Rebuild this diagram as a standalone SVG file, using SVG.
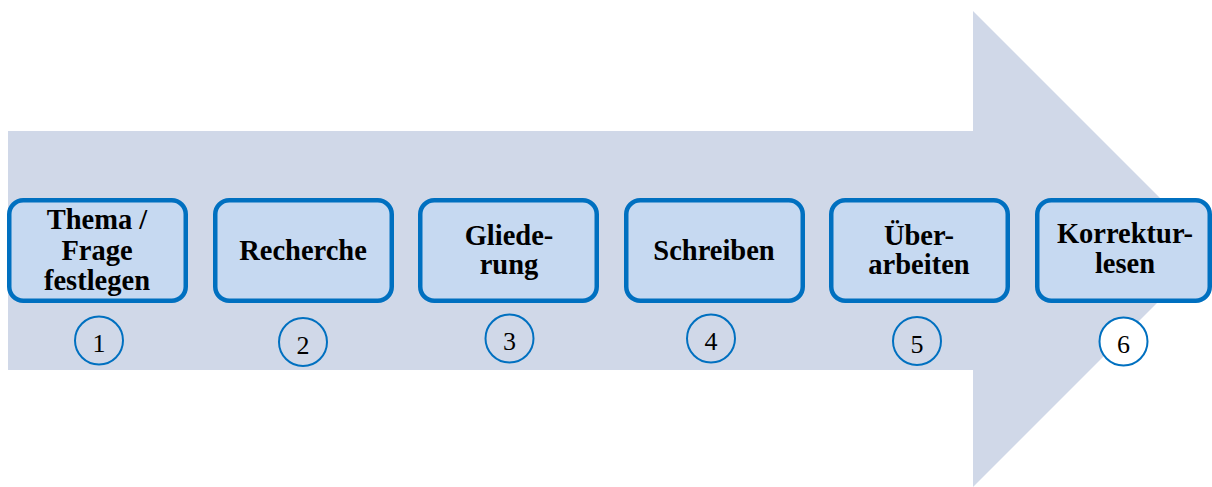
<svg xmlns="http://www.w3.org/2000/svg" width="1212" height="487" viewBox="0 0 1212 487">
<style>
.box{fill:#C6D9F1;stroke:#0070C0;stroke-width:4.5}
.lbl{font-family:'Liberation Serif','DejaVu Serif',serif;font-weight:bold;font-size:28.5px;fill:#000;text-anchor:middle}
.num-c{fill:#D0D8E8;stroke:#0070C0;stroke-width:2}
.num{font-family:'Liberation Serif','DejaVu Serif',serif;font-size:26px;fill:#000;text-anchor:middle}
</style>
<rect width="1212" height="487" fill="#fff"/>
<g id="arrow">
<polygon points="8,131 973,131 973,11 1211,249 973,487 973,370 8,370" fill="#D0D8E8"/>
</g>
<g id="connectors"></g>
<g id="n1">
<rect class="box" x="9.25" y="200.25" width="176.5" height="100.5" rx="14"/>
<text class="lbl" x="97" y="229">Thema /</text>
<text class="lbl" x="97" y="260">Frage</text>
<text class="lbl" x="97" y="290">festlegen</text>
<circle class="num-c" cx="99" cy="340.5" r="24"/>
<text class="num" x="99" y="352">1</text>
</g>
<g id="n2">
<rect class="box" x="215.25" y="200.25" width="176.5" height="100.5" rx="14"/>
<text class="lbl" x="303" y="260">Recherche</text>
<circle class="num-c" cx="303" cy="342" r="24"/>
<text class="num" x="303" y="353.5">2</text>
</g>
<g id="n3">
<rect class="box" x="420.25" y="200.25" width="176.5" height="100.5" rx="14"/>
<text class="lbl" x="509" y="244.5">Gliede-</text>
<text class="lbl" x="509" y="273.5">rung</text>
<circle class="num-c" cx="509.5" cy="338.5" r="24"/>
<text class="num" x="509.5" y="350">3</text>
</g>
<g id="n4">
<rect class="box" x="626.25" y="200.25" width="176.5" height="100.5" rx="14"/>
<text class="lbl" x="714" y="260">Schreiben</text>
<circle class="num-c" cx="711" cy="338.5" r="24"/>
<text class="num" x="711" y="350">4</text>
</g>
<g id="n5">
<rect class="box" x="831.25" y="200.25" width="176.5" height="100.5" rx="14"/>
<text class="lbl" x="919" y="244.5">Über-</text>
<text class="lbl" x="919" y="273.5">arbeiten</text>
<circle class="num-c" cx="917" cy="341" r="24"/>
<text class="num" x="917" y="352.5">5</text>
</g>
<g id="n6">
<rect class="box" x="1037.25" y="200.25" width="172.5" height="100.5" rx="14"/>
<text class="lbl" x="1125" y="243">Korrektur-</text>
<text class="lbl" x="1125" y="273">lesen</text>
<circle class="num-c" cx="1123.5" cy="341.5" r="24" style="fill:#fff"/>
<text class="num" x="1123.5" y="353">6</text>
</g>
</svg>
